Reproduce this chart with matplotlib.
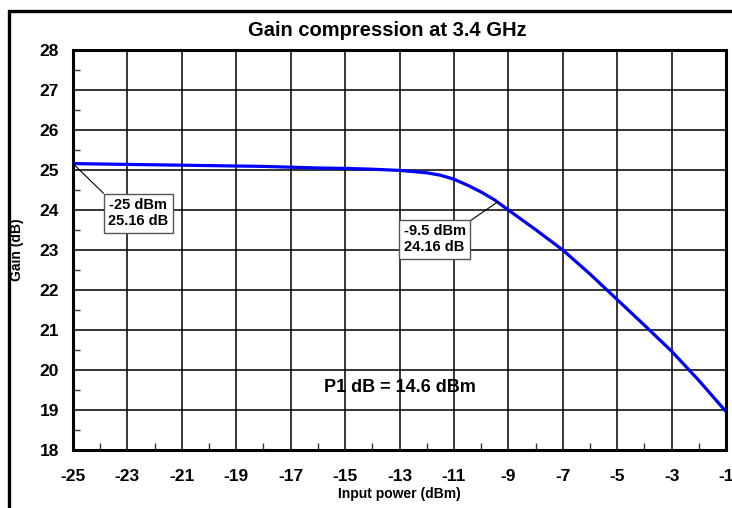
import matplotlib
matplotlib.use("Agg")
import matplotlib.pyplot as plt
from matplotlib.patches import Rectangle
import numpy as np

plt.rcParams['font.family'] = ['Liberation Sans', 'DejaVu Sans']
plt.rcParams['font.weight'] = 'bold'
plt.rcParams['axes.unicode_minus'] = False

# input power (dBm) and gain (dB)
pin = [-25, -24, -23, -22, -21, -20, -19, -18, -17, -16, -15, -14, -13,
       -12, -11.5, -11, -10.5, -10, -9.5, -9, -8, -7, -6, -5, -4, -3, -2, -1]
gain = [25.16, 25.15, 25.14, 25.13, 25.12, 25.11, 25.10, 25.09, 25.07, 25.05,
        25.04, 25.02, 24.99, 24.93, 24.87, 24.77, 24.62, 24.45, 24.25, 24.00,
        23.51, 23.00, 22.40, 21.76, 21.12, 20.47, 19.74, 18.96]

xticks = list(range(-25, 0, 2))
yticks = list(range(18, 29))

fig = plt.figure(figsize=(7.32, 5.08), dpi=100)
W, H = 732, 508
ax = fig.add_axes([73 / W, 1 - 450 / H, (726 - 73) / W, 400 / H])

# outer frame of the chart
fig.patches.append(Rectangle((9 / W, -0.1), 1.0, 1 - 11 / H + 0.1,
                             transform=fig.transFigure, fill=False,
                             edgecolor='black', linewidth=2.4))

ax.plot(pin, gain, color='#0000ff', linewidth=2.3, zorder=3)

ax.set_xlim(-25, -1)
ax.set_ylim(18, 28)
ax.set_xticks(xticks)
ax.set_yticks(yticks)
ax.set_xticks(np.arange(-24, -1, 2), minor=True)
ax.set_yticks(np.arange(18.5, 28, 1), minor=True)
ax.tick_params(which='major', length=0, labelsize=12.5)
ax.tick_params(axis='x', which='major', pad=14)
ax.tick_params(axis='y', which='major', pad=10)
ax.tick_params(which='minor', direction='in', length=5, width=1, color='#333333')
for lab in ax.get_xticklabels() + ax.get_yticklabels():
    lab.set_fontweight('bold')
ax.grid(True, which='major', color='black', linewidth=1.1)
for s in ax.spines.values():
    s.set_linewidth(2.2)

ax.set_xlabel("Input power (dBm)", fontsize=10, fontweight='bold', labelpad=2)
ax.set_ylabel("Gain (dB)", fontsize=10, fontweight='bold', labelpad=11)
fig.text(387 / W, 1 - 31 / H, "Gain compression at 3.4 GHz", ha='center',
         va='center', fontsize=14.5, fontweight='bold')

box = dict(boxstyle='square,pad=0.3', facecolor='white', edgecolor='#555555',
           linewidth=1)
ax.annotate("-25 dBm\n25.16 dB", xy=(-25, 25.16), xytext=(-23.7, 24.3),
            ha='left', va='top', fontsize=10.5, fontweight='bold', bbox=box,
            multialignment='center', linespacing=1.2,
            arrowprops=dict(arrowstyle='-', color='black', lw=0.8,
                            relpos=(0, 1), shrinkA=0, shrinkB=0))
ax.annotate("-9.5 dBm\n24.16 dB", xy=(-9.4, 24.2), xytext=(-12.85, 23.65),
            ha='left', va='top', fontsize=10.5, fontweight='bold', bbox=box,
            multialignment='center', linespacing=1.2,
            arrowprops=dict(arrowstyle='-', color='black', lw=0.8,
                            relpos=(1, 1), shrinkA=0, shrinkB=0))

ax.text(-13.0, 19.55, "P1 dB = 14.6 dBm", ha='center', va='center',
        fontsize=13, fontweight='bold')

fig.savefig("out.png", dpi=100)
